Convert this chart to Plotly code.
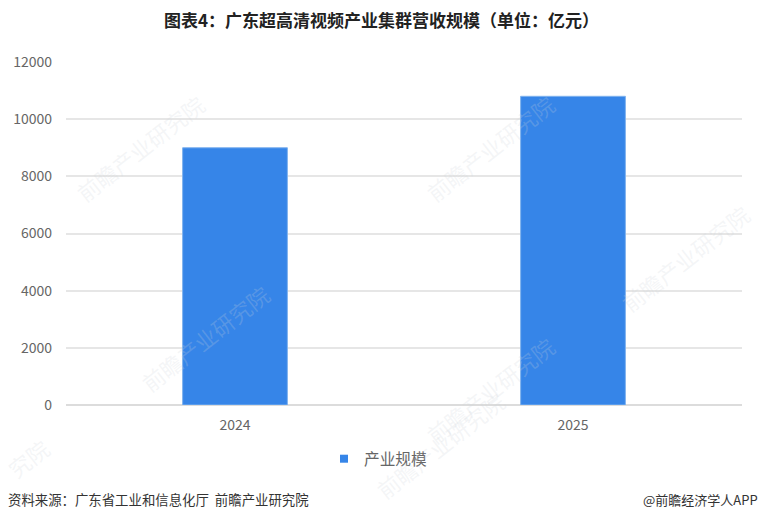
import plotly.graph_objects as go

categories = ["2024", "2025"]
values = [9000, 10800]
series_name = "产业规模"
tick_values = [0, 2000, 4000, 6000, 8000, 10000, 12000]
title_text = "图表4：广东超高清视频产业集群营收规模（单位：亿元）"
source_text = "资料来源：广东省工业和信息化厅  前瞻产业研究院"
credit_text = "@前瞻经济学人APP"
watermark_text = "前瞻产业研究院"
watermark_fragment = "究院"
watermark_spots = [(140, 148), (490, 148), (685, 258), (205, 338), (490, 390), (440, 445)]
fragment_spot = (28, 458)

CJK = "Noto Sans CJK SC"
BLUE = "#3685E8"
fig = go.Figure()
fig.add_trace(go.Bar(x=categories, y=values, name=series_name, showlegend=False,
                     marker=dict(color=BLUE, line=dict(color="#7FB2EE", width=1))))
fig.add_trace(go.Scatter(x=categories[:1], y=[None], name=series_name, mode="markers", showlegend=True, hoverinfo="skip",
                         marker=dict(symbol="square", size=8, color=BLUE)))

watermark_font = dict(family=CJK, size=22, color="rgba(205,212,218,0.22)")
annotations = [
    dict(text=watermark_text, x=px / 760, y=1 - py / 520, xref="paper", yref="paper", xanchor="center", yanchor="middle",
         showarrow=False, textangle=-38, font=watermark_font)
    for px, py in watermark_spots
]
annotations.append(dict(text=watermark_fragment, x=fragment_spot[0] / 760, y=1 - fragment_spot[1] / 520, xref="paper", yref="paper",
                        xanchor="center", yanchor="middle", showarrow=False, textangle=-38, font=watermark_font))
annotations += [
    dict(text=source_text, x=6 / 760, y=1 - 499 / 520, xref="paper", yref="paper", xanchor="left", yanchor="middle", showarrow=False,
         font=dict(family=CJK, size=13.4, color="#333333")),
    dict(text=credit_text, x=760 / 760, y=1 - 499 / 520, xref="paper", yref="paper", xanchor="right", yanchor="middle", showarrow=False,
         font=dict(family=CJK, size=13, color="#333333")),
]
fig.update_layout(
    width=760, height=520, autosize=False, template=None,
    margin=dict(l=0, r=0, t=0, b=0),
    paper_bgcolor="white", plot_bgcolor="rgba(0,0,0,0)",
    title=dict(text=title_text, x=381.5 / 760, xanchor="center", y=1 - 21 / 520, yanchor="middle",
               font=dict(family=CJK, size=17, color="#222222", weight="bold")),
    bargap=0.69,
    xaxis=dict(domain=[66 / 760, 742 / 760], type="category", showline=False, showgrid=False, ticks="", ticklabelstandoff=10,
               tickfont=dict(family=CJK, size=14, color="#666666")),
    yaxis=dict(domain=[1 - 405 / 520, 1 - 62 / 520], range=[0, 12000], tickvals=tick_values, tickformat="d", gridcolor="#E6E6E6", gridwidth=1.5,
               zeroline=True, zerolinecolor="#DCDCDC", zerolinewidth=1.5, showline=False, ticks="", ticklabelstandoff=13,
               tickfont=dict(family=CJK, size=14, color="#666666")),
    legend=dict(orientation="h", x=324 / 760, xanchor="left", y=1 - 459 / 520, yanchor="middle",
                font=dict(family=CJK, size=15.7, color="#666666"), itemwidth=30, bgcolor="rgba(0,0,0,0)"),
    annotations=annotations,
)
fig.write_html("out.html", config={"displayModeBar": False}, post_script="document.body.style.margin='0';")
